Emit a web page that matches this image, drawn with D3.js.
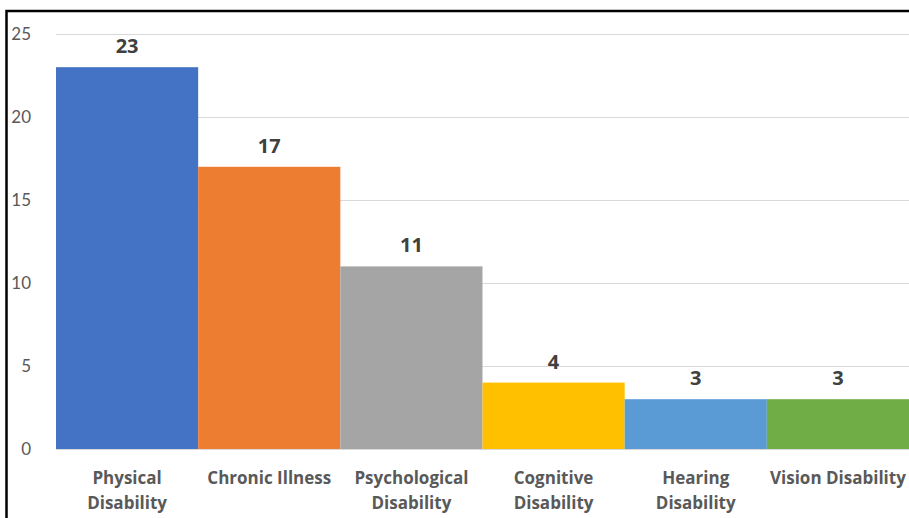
<!DOCTYPE html>
<html>
<head>
<meta charset="utf-8">
<script src="https://cdn.jsdelivr.net/npm/d3@7"></script>
<style>
  html, body { margin: 0; padding: 0; background: #fff; }
  svg { display: block; }
</style>
</head>
<body>
<svg id="chart" width="909" height="518"></svg>
<script>
// Participants by disability type
const categories = ["Physical Disability", "Chronic Illness", "Psychological Disability",
                    "Cognitive Disability", "Hearing Disability", "Vision Disability"];
const categoryLines = [["Physical", "Disability"], ["Chronic Illness"], ["Psychological", "Disability"],
                       ["Cognitive", "Disability"], ["Hearing", "Disability"], ["Vision Disability"]];
const values = [23, 17, 11, 4, 3, 3];
const colors = ["#4472C4", "#ED7D31", "#A5A5A5", "#FFC000", "#5B9BD5", "#70AD47"];
const yTicks = [0, 5, 10, 15, 20, 25];

const svg = d3.select("#chart");
const font = "'Open Sans', Lato, sans-serif";

const plot = { left: 56, right: 909, top: 34, bottom: 449 };

const x = d3.scaleBand().domain(categories).range([plot.left, plot.right]).padding(0);
const y = d3.scaleLinear().domain([0, 25]).range([plot.bottom, plot.top]);

// outer frame
svg.append("rect")
  .attr("x", 6.5).attr("y", 11)
  .attr("width", 1000).attr("height", 600)
  .attr("fill", "none").attr("stroke", "#000").attr("stroke-width", 2.5);

// horizontal gridlines
svg.append("g").selectAll("line")
  .data(yTicks.filter(d => d > 0))
  .join("line")
  .attr("x1", plot.left).attr("x2", plot.right)
  .attr("y1", d => y(d) + 0.5).attr("y2", d => y(d) + 0.5)
  .attr("stroke", "#d9d9d9").attr("stroke-width", 1);

// y axis tick labels
const yAxis = d3.axisLeft(y).tickValues(yTicks).tickSize(0).tickPadding(0);
const yg = svg.append("g").attr("transform", `translate(${31},0)`).call(yAxis);
yg.select(".domain").remove();
yg.selectAll("text")
  .attr("font-family", "Lato, sans-serif").attr("font-size", 17)
  .attr("fill", "#595959").attr("text-anchor", "end").attr("dy", "0.35em");

// bars
svg.append("g").selectAll("rect")
  .data(values)
  .join("rect")
  .attr("x", (d, i) => x(categories[i]))
  .attr("y", d => y(d))
  .attr("width", x.bandwidth())
  .attr("height", d => y(0) - y(d))
  .attr("fill", (d, i) => colors[i]);

// baseline
svg.append("line")
  .attr("x1", plot.left).attr("x2", plot.right)
  .attr("y1", y(0) + 0.5).attr("y2", y(0) + 0.5)
  .attr("stroke", "#d9d9d9").attr("stroke-width", 1);

// value labels
svg.append("g").selectAll("text")
  .data(values)
  .join("text")
  .attr("x", (d, i) => x(categories[i]) + x.bandwidth() / 2)
  .attr("y", d => y(d) - 14)
  .attr("text-anchor", "middle")
  .attr("font-family", font).attr("font-size", 20).attr("font-weight", "bold")
  .attr("fill", "#404040")
  .text(d => d);

// category labels
const xg = svg.append("g");
categoryLines.forEach((lines, i) => {
  const t = xg.append("text")
    .attr("x", x(categories[i]) + x.bandwidth() / 2)
    .attr("y", 484)
    .attr("text-anchor", "middle")
    .attr("font-family", font).attr("font-size", 17).attr("font-weight", "bold")
    .attr("fill", "#595959");
  lines.forEach((ln, k) => {
    t.append("tspan")
      .attr("x", x(categories[i]) + x.bandwidth() / 2)
      .attr("dy", k === 0 ? 0 : 25)
      .text(ln);
  });
});
</script>
</body>
</html>
